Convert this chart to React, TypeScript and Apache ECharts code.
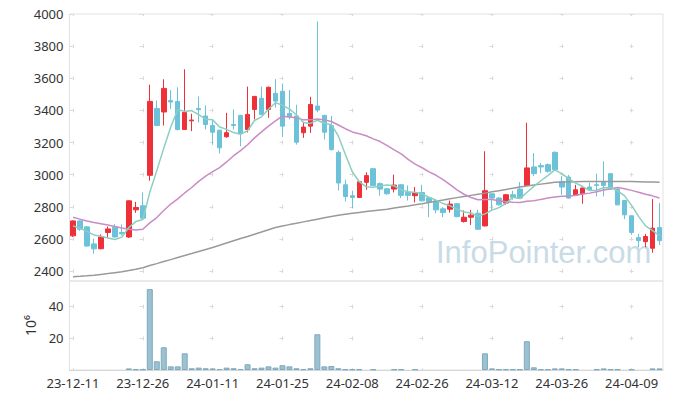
import React, { useEffect, useRef } from "react";
import * as echarts from "echarts";

const dates = [
  "23-12-11","23-12-12","23-12-13","23-12-14","23-12-15","23-12-18","23-12-19","23-12-20","23-12-21","23-12-22",
  "23-12-26","23-12-27","23-12-28","24-01-02","24-01-03","24-01-04","24-01-05","24-01-08","24-01-09","24-01-10",
  "24-01-11","24-01-12","24-01-15","24-01-16","24-01-17","24-01-18","24-01-19","24-01-22","24-01-23","24-01-24",
  "24-01-25","24-01-26","24-01-29","24-01-30","24-01-31","24-02-01","24-02-02","24-02-05","24-02-06","24-02-07",
  "24-02-08","24-02-13","24-02-14","24-02-15","24-02-16","24-02-19","24-02-20","24-02-21","24-02-22","24-02-23",
  "24-02-26","24-02-27","24-02-28","24-02-29","24-03-04","24-03-05","24-03-06","24-03-07","24-03-08","24-03-11",
  "24-03-12","24-03-13","24-03-14","24-03-15","24-03-18","24-03-19","24-03-20","24-03-21","24-03-22","24-03-25",
  "24-03-26","24-03-27","24-03-28","24-03-29","24-04-01","24-04-02","24-04-03","24-04-04","24-04-05","24-04-08",
  "24-04-09","24-04-11","24-04-12","24-04-15","24-04-16"
];

const openPrices = [
  2619,2712,2675,2569,2539,2640,2673,2640,2612,2781,
  2806,2996,3412,3390,3462,3456,3281,3335,3412,3365,
  3306,3277,3236,3312,3369,3281,3406,3475,3406,3506,
  3519,3381,3365,3261,3302,3427,3369,3306,3139,2937,
  2869,2858,2952,3037,2944,2912,2910,2937,2889,2869,
  2889,2856,2837,2787,2785,2819,2708,2735,2760,2681,
  2881,2854,2823,2875,2910,2933,3048,3056,3062,3139,
  2958,2985,2871,2881,2923,2937,2952,3006,2910,2839,
  2744,2608,2583,2542,2671
];
const closePrices = [
  2712,2660,2556,2538,2612,2662,2612,2632,2837,2796,
  2729,3456,3306,3537,3452,3281,3387,3340,3404,3312,
  3264,3167,3261,3306,3256,3375,3487,3375,3544,3458,
  3302,3360,3202,3296,3437,3402,3264,3156,2948,2864,
  2858,2956,2994,2933,2910,2881,2935,2871,2871,2889,
  2837,2829,2781,2764,2817,2739,2735,2748,2660,2900,
  2854,2812,2875,2860,2854,3042,3006,3048,3021,3031,
  2923,2854,2906,2917,2906,2933,2933,2910,2812,2750,
  2640,2589,2615,2667,2589
];
const lowPrices = [
  2612,2650,2550,2508,2535,2610,2608,2622,2606,2762,
  2725,2962,3302,3306,3410,3275,3278,3271,3325,3281,
  3187,3131,3230,3281,3177,3262,3344,3370,3354,3417,
  3235,3344,3187,3229,3260,3389,3219,3150,2902,2833,
  2792,2855,2906,2930,2869,2875,2889,2854,2839,2827,
  2834,2735,2760,2735,2764,2735,2702,2687,2657,2678,
  2781,2809,2812,2844,2851,2930,2990,3010,3012,3025,
  2875,2850,2868,2819,2900,2864,2864,2905,2808,2723,
  2625,2548,2548,2514,2562
];
const highPrices = [
  2715,2715,2680,2602,2629,2677,2692,2690,2840,2831,
  2889,3560,3462,3594,3527,3544,3656,3379,3487,3431,
  3339,3280,3385,3406,3372,3548,3490,3548,3548,3594,
  3567,3527,3435,3329,3485,3954,3372,3365,3150,2969,
  2900,2960,3014,3040,2952,2915,3000,2940,2933,2923,
  2937,2860,2840,2798,2839,2822,2777,2781,2781,3146,
  2885,2860,2878,2900,2954,3323,3135,3073,3070,3145,
  2990,2998,2937,2920,2950,3006,3083,3010,2913,2842,
  2747,2631,2631,2848,2823
];

const volume = [
  0,0,0,0,0,0,0,0,1.0,0.4,
  0.4,50.9,5.5,14.3,2.3,2.3,10.5,1.1,1.5,1.1,
  1.0,0.6,1.5,1.1,0.6,3.6,1.1,1.5,2.3,1.5,
  3.0,2.3,1.1,0.5,1.1,22.5,2.3,2.5,1.1,0.4,
  0.4,0.4,0,0.4,0,0,0.4,0.4,0,0.4,
  0,0,0,0,0,0,0,0,0,10.5,
  1.0,0.4,0.4,0.4,0.4,18.1,1.7,0.4,0.4,1.0,
  1.0,0.4,0.4,0,0,0.4,1.0,0.4,0.4,0,
  0.4,0,0,1.0,1.0
];

const ma5 = [
  2681,2667,2646,2625,2616,2606,2596,2611,2671,2708,
  2721,2890,3025,3165,3296,3406,3393,3399,3373,3345,
  3341,3297,3282,3262,3251,3273,3337,3360,3407,3448,
  3433,3408,3373,3324,3319,3339,3320,3311,3241,3127,
  3018,2956,2924,2921,2930,2935,2931,2906,2894,2889,
  2881,2859,2841,2820,2806,2786,2767,2761,2740,2756,
  2779,2795,2820,2860,2851,2889,2927,2962,2994,3030,
  3006,2975,2947,2926,2901,2903,2919,2920,2899,2868,
  2809,2740,2681,2652,2620
];
const ma20 = [
  2735,2723,2712,2702,2694,2686,2677,2668,2660,2656,
  2660,2700,2733,2777,2817,2849,2886,2920,2958,2991,
  3019,3044,3079,3118,3150,3186,3229,3266,3302,3335,
  3364,3359,3354,3341,3341,3347,3341,3331,3309,3286,
  3266,3255,3242,3223,3206,3181,3154,3129,3095,3066,
  3043,3017,2996,2969,2938,2905,2878,2858,2844,2845,
  2845,2838,2832,2828,2826,2834,2837,2846,2854,2861,
  2865,2866,2872,2880,2885,2894,2904,2912,2920,2912,
  2902,2891,2878,2868,2855
];
const maLong = [
  2365,2367,2370,2374,2379,2384,2390,2396,2403,2411,
  2421,2434,2446,2459,2471,2484,2497,2509,2522,2534,
  2547,2560,2574,2588,2602,2615,2629,2643,2657,2671,
  2680,2689,2697,2706,2714,2723,2732,2740,2747,2754,
  2760,2765,2770,2775,2780,2785,2792,2799,2805,2812,
  2819,2827,2835,2842,2850,2857,2864,2871,2878,2885,
  2893,2900,2908,2915,2923,2929,2935,2941,2947,2952,
  2954,2955,2956,2957,2958,2958,2958,2958,2958,2958,
  2957,2956,2955,2954,2952
];

const RED = "#ee3039";
const BLUE = "#6cc2d8";
const GRID = "#dadada";
const FONT = "'Noto Sans', sans-serif";

export default function App() {
  const ref = useRef<HTMLDivElement>(null);
  useEffect(() => {
    if (!ref.current) return;
    const chart = echarts.init(ref.current, undefined, { renderer: "svg" });
    const candles = dates.map((_, i) => [openPrices[i], closePrices[i], lowPrices[i], highPrices[i]]);
    const volumeData = volume.map((v) => (v > 0 ? v : "-"));
    chart.setOption({
      animation: false,
      textStyle: { fontFamily: FONT },
      grid: [
        { left: 69.5, right: 10, top: 14, height: 267, show: true, borderColor: "#e2e2e2", borderWidth: 1 },
        { left: 69.5, right: 10, top: 281, height: 89, show: true, borderColor: "#e2e2e2", borderWidth: 1 },
      ],
      graphic: [
        {
          type: "text",
          left: 436,
          top: 237,
          z: 0,
          style: { text: "InfoPointer.com", fontSize: 31, fontFamily: "'Liberation Sans', Arial, sans-serif", fill: "#c9dbe6" },
        },
      ],
      xAxis: [
        {
          type: "category",
          gridIndex: 0,
          data: dates,
          boundaryGap: true,
          axisLine: { show: false },
          axisTick: { show: false },
          axisLabel: { show: false },
          splitLine: {
            show: true,
            interval: 9,
            alignWithLabel: true,
            lineStyle: { color: GRID, width: 1, type: [4, 28.13], dashOffset: 2 },
          },
        },
        {
          type: "category",
          gridIndex: 1,
          data: dates,
          boundaryGap: true,
          axisLine: { show: true, lineStyle: { color: "#d6d6d6" } },
          axisTick: { show: false },
          axisLabel: { interval: 9, color: "#333", fontSize: 13, margin: 6, fontFamily: FONT },
          splitLine: {
            show: true,
            interval: 9,
            alignWithLabel: true,
            lineStyle: { color: GRID, width: 1, type: [4, 27.7], dashOffset: 8 },
          },
        },
      ],
      yAxis: [
        {
          type: "value",
          gridIndex: 0,
          min: 2338,
          max: 4000,
          splitNumber: 8,
          axisLine: { show: false },
          axisTick: { show: false },
          axisLabel: {
            color: "#333",
            fontSize: 13,
            margin: 6,
            showMinLabel: false,
            fontFamily: FONT,
            formatter: (v: number) => String(Math.round(v)),
          },
          splitLine: { show: true, showMinLine: false, lineStyle: { color: GRID, width: 1, type: [4, 66] } },
        },
        {
          type: "value",
          gridIndex: 1,
          min: 0,
          max: 56,
          splitNumber: 3,
          name: "10\u2076",
          nameLocation: "middle",
          nameGap: 30,
          nameTextStyle: { color: "#333", fontSize: 14, fontFamily: FONT },
          axisLine: { show: false },
          axisTick: { show: false },
          axisLabel: {
            color: "#333",
            fontSize: 13,
            margin: 6,
            showMinLabel: false,
            showMaxLabel: false,
            fontFamily: FONT,
            formatter: (v: number) => String(Math.round(v)),
          },
          splitLine: { show: true, showMinLine: false, showMaxLine: false, lineStyle: { color: GRID, width: 1, type: [4, 66] } },
        },
      ],
      series: [
        {
          type: "candlestick",
          xAxisIndex: 0,
          yAxisIndex: 0,
          data: candles,
          barWidth: 5,
          itemStyle: { color: RED, color0: BLUE, borderColor: RED, borderColor0: BLUE, borderWidth: 1 },
          z: 2,
        },
        {
          type: "line",
          xAxisIndex: 0,
          yAxisIndex: 0,
          data: maLong,
          symbol: "none",
          lineStyle: { color: "#9a9a9a", width: 1.5 },
          z: 3,
        },
        {
          type: "line",
          xAxisIndex: 0,
          yAxisIndex: 0,
          data: ma20,
          symbol: "none",
          lineStyle: { color: "#c98cc4", width: 1.5 },
          z: 3,
        },
        {
          type: "line",
          xAxisIndex: 0,
          yAxisIndex: 0,
          data: ma5,
          symbol: "none",
          lineStyle: { color: "#8ccfc0", width: 1.5 },
          z: 3,
        },
        {
          type: "bar",
          xAxisIndex: 1,
          yAxisIndex: 1,
          data: volumeData,
          barWidth: 6,
          itemStyle: { color: "#9cc1d1", borderColor: "#7faabd", borderWidth: 1 },
        },
      ],
    });
    return () => chart.dispose();
  }, []);
  return <div ref={ref} style={{ width: 673, height: 399, position: "absolute", left: 0, top: 0 }} />;
}
